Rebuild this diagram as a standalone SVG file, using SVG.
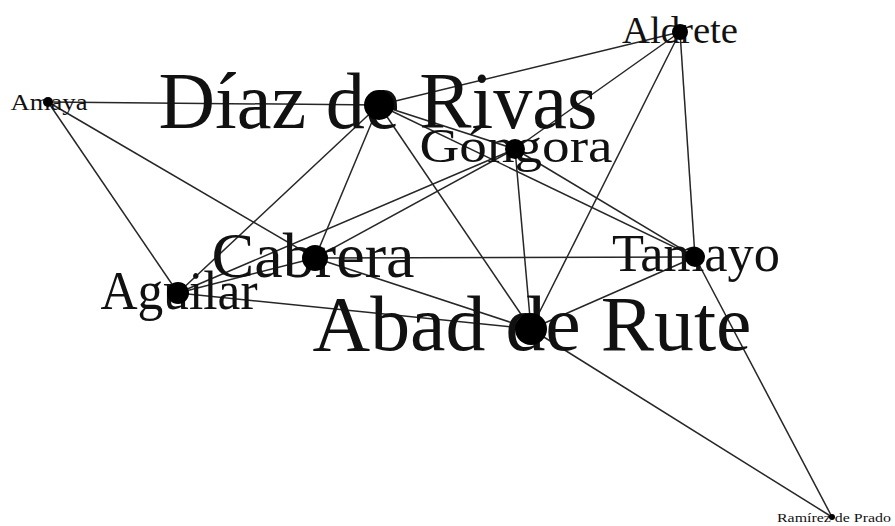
<svg xmlns="http://www.w3.org/2000/svg" width="895" height="526" viewBox="0 0 895 526">
<style>
.e{stroke:#262626;stroke-width:1.5;fill:none}
.n{fill:#000}
.t{font-family:"Liberation Serif","Times New Roman",serif;fill:#111;text-anchor:middle}
</style>
<rect width="895" height="526" fill="#fff"/>
<g id="edges">
<line class="e" x1="48" y1="102" x2="379" y2="105"/>
<line class="e" x1="48" y1="102" x2="315" y2="258"/>
<line class="e" x1="48" y1="102" x2="178" y2="293"/>
<line class="e" x1="680" y1="32" x2="379" y2="105"/>
<line class="e" x1="680" y1="32" x2="515" y2="149"/>
<line class="e" x1="680" y1="32" x2="531" y2="329"/>
<line class="e" x1="680" y1="32" x2="695" y2="257"/>
<line class="e" x1="379" y1="105" x2="515" y2="149"/>
<line class="e" x1="379" y1="105" x2="695" y2="257"/>
<line class="e" x1="379" y1="105" x2="315" y2="258"/>
<line class="e" x1="379" y1="105" x2="178" y2="293"/>
<line class="e" x1="379" y1="105" x2="531" y2="329"/>
<line class="e" x1="515" y1="149" x2="315" y2="258"/>
<line class="e" x1="515" y1="149" x2="178" y2="293"/>
<line class="e" x1="515" y1="149" x2="531" y2="329"/>
<line class="e" x1="515" y1="149" x2="695" y2="257"/>
<line class="e" x1="315" y1="258" x2="695" y2="257"/>
<line class="e" x1="315" y1="258" x2="531" y2="329"/>
<line class="e" x1="315" y1="258" x2="178" y2="293"/>
<line class="e" x1="178" y1="293" x2="531" y2="329"/>
<line class="e" x1="695" y1="257" x2="531" y2="329"/>
<line class="e" x1="695" y1="257" x2="832" y2="517"/>
<line class="e" x1="531" y1="329" x2="832" y2="517"/>
</g>
<g id="node-amaya"><text class="t" x="49" y="110" font-size="24" textLength="77" lengthAdjust="spacingAndGlyphs">Amaya</text><circle class="n" cx="48" cy="102" r="5"/></g>
<g id="node-aldrete"><text class="t" x="680" y="43" font-size="37" textLength="116" lengthAdjust="spacingAndGlyphs">Aldrete</text><circle class="n" cx="680" cy="32" r="8"/></g>
<g id="node-diaz-de-rivas"><text class="t" x="378" y="128" font-size="80" textLength="439" lengthAdjust="spacingAndGlyphs">Díaz de Rivas</text><circle class="n" cx="379" cy="105" r="15"/></g>
<g id="node-gongora"><text class="t" x="516" y="162" font-size="48" textLength="193" lengthAdjust="spacingAndGlyphs">Góngora</text><circle class="n" cx="515" cy="149" r="10"/></g>
<g id="node-cabrera"><text class="t" x="313" y="277" font-size="63" textLength="203" lengthAdjust="spacingAndGlyphs">Cabrera</text><circle class="n" cx="315" cy="258" r="13"/></g>
<g id="node-aguilar"><text class="t" x="179" y="309" font-size="55" textLength="157" lengthAdjust="spacingAndGlyphs">Aguilar</text><circle class="n" cx="178" cy="293" r="11"/></g>
<g id="node-tamayo"><text class="t" x="696" y="271" font-size="53" textLength="168" lengthAdjust="spacingAndGlyphs">Tamayo</text><circle class="n" cx="695" cy="257" r="10"/></g>
<g id="node-abad-de-rute"><text class="t" x="532" y="350" font-size="78" textLength="439" lengthAdjust="spacingAndGlyphs">Abad de Rute</text><circle class="n" cx="531" cy="329" r="16"/></g>
<g id="node-ramirez-de-prado"><text class="t" x="834" y="522" font-size="13" textLength="114" lengthAdjust="spacingAndGlyphs">Ramírez de Prado</text><circle class="n" cx="832" cy="517" r="3"/></g>
</svg>
